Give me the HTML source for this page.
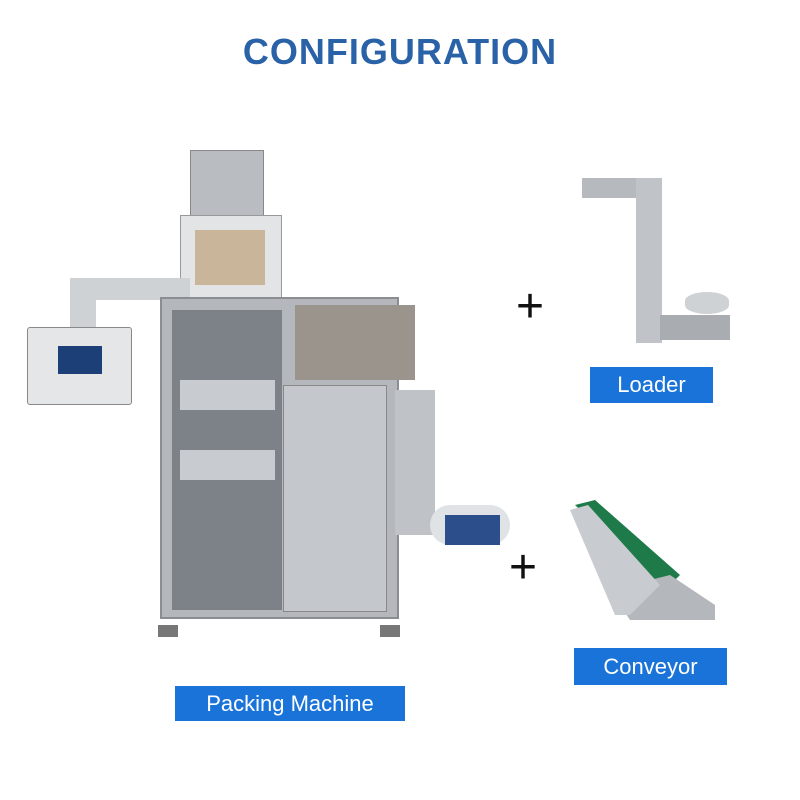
<!DOCTYPE html>
<html><head><meta charset="utf-8"><style>
body{margin:0;width:800px;height:800px;background:#fff;position:relative;overflow:hidden;font-family:"Liberation Sans",sans-serif}
.a{position:absolute}
.t{left:0;width:800px;top:31px;text-align:center;font-size:36px;font-weight:bold;color:#2a62a8;letter-spacing:1px}
.lb{background:#1a73d9;color:#fff;font-size:22px;text-align:center}
.plus{font-size:48px;color:#111;line-height:1;font-weight:300}
</style></head><body>
<div class="a t">CONFIGURATION</div>

<!-- packing machine -->
<div class="a" style="left:190px;top:150px;width:72px;height:70px;background:#b9bcc0;border:1px solid #888"></div>
<div class="a" style="left:180px;top:215px;width:100px;height:82px;background:#e2e4e6;border:1px solid #999"></div>
<div class="a" style="left:195px;top:230px;width:70px;height:55px;background:#c9b59a"></div>
<div class="a" style="left:70px;top:278px;width:120px;height:22px;background:#cfd2d5"></div>
<div class="a" style="left:70px;top:278px;width:26px;height:55px;background:#cfd2d5"></div>
<div class="a" style="left:27px;top:327px;width:103px;height:76px;background:#e4e6e8;border:1px solid #888;border-radius:3px"></div>
<div class="a" style="left:58px;top:346px;width:44px;height:28px;background:#1d3f78"></div>
<div class="a" style="left:160px;top:297px;width:235px;height:318px;background:#b4b8bc;border:2px solid #8a8e93"></div>
<div class="a" style="left:172px;top:310px;width:110px;height:300px;background:#7d8288"></div>
<div class="a" style="left:180px;top:380px;width:95px;height:30px;background:#c8ccd0"></div>
<div class="a" style="left:180px;top:450px;width:95px;height:30px;background:#c8ccd0"></div>
<div class="a" style="left:295px;top:305px;width:120px;height:75px;background:#9a948d"></div>
<div class="a" style="left:283px;top:385px;width:102px;height:225px;background:#c4c7cb;border:1px solid #888"></div>
<div class="a" style="left:395px;top:390px;width:40px;height:145px;background:#bfc2c6"></div>
<div class="a" style="left:430px;top:505px;width:80px;height:40px;background:#dfe3e6;border-radius:20px"></div>
<div class="a" style="left:445px;top:515px;width:55px;height:30px;background:#2c4f8c"></div>
<div class="a" style="left:158px;top:625px;width:20px;height:12px;background:#777"></div>
<div class="a" style="left:380px;top:625px;width:20px;height:12px;background:#777"></div>

<!-- loader -->
<div class="a" style="left:582px;top:178px;width:80px;height:20px;background:#b6b9bd"></div>
<div class="a" style="left:636px;top:178px;width:26px;height:165px;background:#c0c3c7"></div>
<div class="a" style="left:660px;top:315px;width:70px;height:25px;background:#a9acb0"></div>
<div class="a" style="left:685px;top:292px;width:44px;height:22px;background:#cfd2d5;border-radius:50%/40%"></div>

<!-- conveyor -->
<svg class="a" style="left:570px;top:495px" width="150" height="135">
<polygon points="5,10 25,5 110,80 95,95" fill="#1f7a4a"/>
<polygon points="40,95 100,80 145,110 145,125 60,125" fill="#b4b8bc"/>
<polygon points="0,15 18,10 90,90 60,120 45,120" fill="#c8cbcf"/>
</svg>

<div class="a plus" style="left:516px;top:283px">+</div>
<div class="a plus" style="left:509px;top:544px">+</div>

<div class="a lb" style="left:590px;top:367px;width:123px;height:36px;line-height:36px">Loader</div>
<div class="a lb" style="left:574px;top:648px;width:153px;height:37px;line-height:37px">Conveyor</div>
<div class="a lb" style="left:175px;top:686px;width:230px;height:35px;line-height:35px">Packing Machine</div>
</body></html>
